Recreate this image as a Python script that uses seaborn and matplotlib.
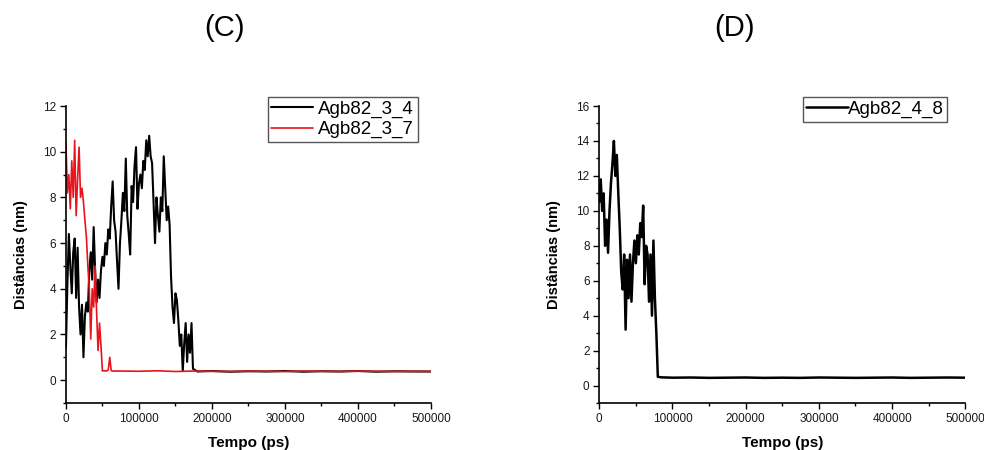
import numpy as np
import pandas as pd
import matplotlib
matplotlib.use("Agg")
import matplotlib.pyplot as plt
from matplotlib.ticker import MultipleLocator, ScalarFormatter
import seaborn as sns

# sampling step of the hand-read active part of each trajectory (ps)
step_ps = 2000

# (C) Agb82_3_4 - distance (nm), read every 2000 ps from 0 to 174000 ps
c34_active = [1.4, 4.2, 6.4, 5.0, 3.8, 5.6, 6.2, 3.6, 5.8, 3.2,
              2.0, 3.3, 1.0, 2.8, 3.4, 3.0, 4.8, 5.6, 4.4, 6.7,
              4.8, 3.4, 4.4, 3.6, 4.8, 5.4, 5.0, 6.0, 5.5, 6.6,
              6.2, 7.6, 8.7, 7.0, 6.5, 5.2, 4.0, 6.0, 7.0, 8.2,
              7.4, 9.7, 7.2, 6.4, 5.5, 8.5, 7.8, 9.4, 10.2, 7.5,
              8.6, 9.0, 8.4, 9.6, 9.2, 10.5, 9.8, 10.7, 9.8, 9.5,
              7.8, 6.0, 8.0, 7.2, 6.5, 8.0, 7.4, 9.8, 8.4, 7.0,
              7.6, 6.8, 4.5, 3.2, 2.5, 3.8, 3.5, 2.6, 1.5, 2.0,
              0.4, 1.6, 2.5, 0.8, 2.0, 1.2, 2.5, 0.5]
c34_tail_t = [180000, 200000, 225000, 250000, 275000, 300000, 325000,
              350000, 375000, 400000, 425000, 450000, 475000, 500000]
c34_tail = [0.38, 0.40, 0.37, 0.39, 0.38, 0.40, 0.37, 0.39, 0.38,
            0.40, 0.37, 0.39, 0.38, 0.38]

# (C) Agb82_3_7 - distance (nm), read every 2000 ps from 0 to 64000 ps
c37_active = [10.4, 8.2, 9.0, 7.5, 9.6, 8.0, 10.5, 7.2, 8.8, 10.2,
              8.0, 8.4, 7.8, 7.0, 6.3, 5.0, 4.0, 1.8, 4.0, 3.2,
              5.0, 3.0, 1.3, 2.5, 1.5, 0.4, 0.42, 0.40, 0.41, 0.45,
              1.0, 0.42, 0.40]
c37_tail_t = [75000, 100000, 125000, 150000, 175000, 200000, 225000,
              250000, 275000, 300000, 325000, 350000, 375000, 400000,
              425000, 450000, 475000, 500000]
c37_tail = [0.40, 0.39, 0.41, 0.38, 0.40, 0.39, 0.38, 0.40, 0.39,
            0.38, 0.40, 0.39, 0.38, 0.40, 0.39, 0.38, 0.39, 0.38]

# (D) Agb82_4_8 - distance (nm), read every 2000 ps from 0 to 80000 ps
d48_active = [10.5, 11.8, 10.0, 11.0, 8.0, 9.5, 7.6, 10.0, 11.6, 12.7,
              14.0, 12.0, 13.2, 11.0, 9.0, 6.5, 5.5, 7.5, 3.2, 7.2,
              5.0, 7.5, 4.8, 7.0, 8.3, 7.0, 8.6, 7.5, 9.3, 8.5,
              10.3, 5.8, 8.0, 7.5, 4.8, 7.5, 4.0, 8.3, 5.0, 3.0, 0.5]
d48_tail_t = [85000, 100000, 125000, 150000, 175000, 200000, 225000,
              250000, 275000, 300000, 325000, 350000, 375000, 400000,
              425000, 450000, 475000, 500000]
d48_tail = [0.47, 0.45, 0.46, 0.44, 0.45, 0.46, 0.44, 0.45, 0.44,
            0.46, 0.45, 0.44, 0.45, 0.46, 0.44, 0.45, 0.46, 0.45]


def series(active, tail_t, tail):
    t = list(np.arange(len(active)) * step_ps) + tail_t
    return pd.DataFrame({"t": t, "d": active + tail})


def style_axes(ax, ymax):
    ax.set_xlim(0, 500000)
    ax.set_ylim(-1, ymax)
    ax.xaxis.set_major_locator(MultipleLocator(100000))
    ax.xaxis.set_minor_locator(MultipleLocator(50000))
    ax.yaxis.set_major_locator(MultipleLocator(2))
    ax.yaxis.set_minor_locator(MultipleLocator(1))
    fmt = ScalarFormatter(useOffset=False)
    fmt.set_scientific(False)
    ax.xaxis.set_major_formatter(fmt)
    ax.tick_params(which="major", direction="out", length=4, width=1,
                   labelsize=8.5, labelcolor="#1a1a1a", color="black", pad=3)
    ax.tick_params(which="minor", direction="out", length=2.5, width=1,
                   color="black")
    for side in ["top", "right"]:
        ax.spines[side].set_visible(False)
    for side in ["left", "bottom"]:
        ax.spines[side].set_linewidth(1.2)
        ax.spines[side].set_color("black")
    ax.set_xlabel("Tempo (ps)", fontsize=11, fontweight="bold", labelpad=8,
                  color="black")
    ax.set_ylabel("Distâncias (nm)", fontsize=10.5, fontweight="bold",
                  labelpad=11, color="black")


sns.set_style("ticks")
plt.rcParams["font.family"] = ["Liberation Sans", "DejaVu Sans"]
plt.rcParams["text.color"] = "black"

fig = plt.figure(figsize=(9.84, 4.5), dpi=100)
ax_c = fig.add_axes([0.067, 0.1044, 0.371, 0.66])
ax_d = fig.add_axes([0.609, 0.1044, 0.372, 0.66])

df34 = series(c34_active, c34_tail_t, c34_tail)
df37 = series(c37_active, c37_tail_t, c37_tail)
df48 = series(d48_active, d48_tail_t, d48_tail)

sns.lineplot(data=df34, x="t", y="d", ax=ax_c, color="black", lw=1.5,
             label="Agb82_3_4", sort=False)
sns.lineplot(data=df37, x="t", y="d", ax=ax_c, color="#e8131b", lw=1.2,
             label="Agb82_3_7", sort=False)
sns.lineplot(data=df48, x="t", y="d", ax=ax_d, color="black", lw=1.8,
             label="Agb82_4_8", sort=False)

style_axes(ax_c, 12)
style_axes(ax_d, 16)

leg_c = ax_c.legend(loc="upper right", bbox_to_anchor=(0.964, 1.03),
                    borderaxespad=0, fontsize=13.5, frameon=True,
                    fancybox=False, edgecolor="#555555", framealpha=1,
                    handlelength=2.2, handletextpad=0.3, borderpad=0.2,
                    labelspacing=0.15)
leg_c.get_frame().set_linewidth(1.0)
leg_d = ax_d.legend(loc="upper right", bbox_to_anchor=(0.951, 1.03),
                    borderaxespad=0, fontsize=13.5, frameon=True,
                    fancybox=False, edgecolor="#555555", framealpha=1,
                    handlelength=2.2, handletextpad=0.0, borderpad=0.2)
leg_d.get_frame().set_linewidth(1.0)

fig.text(225 / 984, 1 - 28 / 450, "(C)", fontsize=21, ha="center",
         va="center", color="black")
fig.text(735 / 984, 1 - 28 / 450, "(D)", fontsize=21, ha="center",
         va="center", color="black")

fig.savefig("out.png", dpi=100, facecolor="white")
